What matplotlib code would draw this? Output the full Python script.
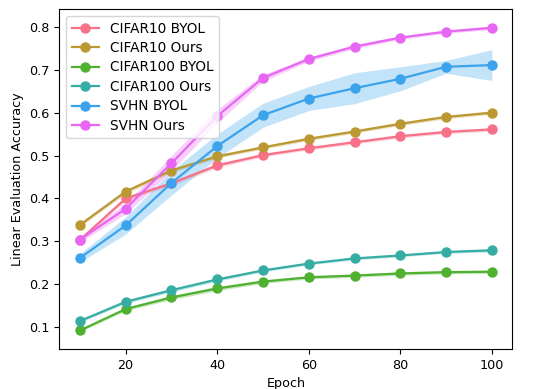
import matplotlib
matplotlib.use("Agg")
import matplotlib.pyplot as plt
import numpy as np
import seaborn as sns

epochs = [10, 20, 30, 40, 50, 60, 70, 80, 90, 100]

names = ["CIFAR10 BYOL", "CIFAR10 Ours", "CIFAR100 BYOL", "CIFAR100 Ours", "SVHN BYOL", "SVHN Ours"]

cifar10_byol = [0.303, 0.400, 0.435, 0.477, 0.501, 0.517, 0.531, 0.545, 0.555, 0.561]
cifar10_ours = [0.338, 0.416, 0.465, 0.498, 0.519, 0.539, 0.556, 0.574, 0.590, 0.600]
cifar100_byol = [0.092, 0.142, 0.169, 0.190, 0.206, 0.216, 0.220, 0.225, 0.228, 0.229]
cifar100_ours = [0.114, 0.159, 0.186, 0.211, 0.232, 0.248, 0.260, 0.267, 0.275, 0.279]
svhn_byol = [0.261, 0.337, 0.436, 0.522, 0.594, 0.633, 0.657, 0.679, 0.707, 0.711]
svhn_ours = [0.304, 0.376, 0.482, 0.592, 0.681, 0.725, 0.754, 0.775, 0.789, 0.798]

# spread of the shaded bands (half width)
cifar10_byol_sd = [0.004, 0.005, 0.005, 0.005, 0.004, 0.004, 0.004, 0.004, 0.004, 0.004]
cifar10_ours_sd = [0.004, 0.005, 0.005, 0.004, 0.004, 0.004, 0.004, 0.004, 0.004, 0.004]
cifar100_byol_sd = [0.003, 0.004, 0.005, 0.005, 0.004, 0.004, 0.004, 0.004, 0.004, 0.004]
cifar100_ours_sd = [0.003, 0.004, 0.004, 0.004, 0.003, 0.003, 0.003, 0.003, 0.003, 0.004]
svhn_byol_sd = [0.010, 0.020, 0.028, 0.028, 0.028, 0.028, 0.036, 0.028, 0.015, 0.036]
svhn_ours_sd = [0.006, 0.012, 0.018, 0.016, 0.008, 0.005, 0.005, 0.004, 0.004, 0.004]

series = [cifar10_byol, cifar10_ours, cifar100_byol, cifar100_ours, svhn_byol, svhn_ours]
spreads = [cifar10_byol_sd, cifar10_ours_sd, cifar100_byol_sd, cifar100_ours_sd, svhn_byol_sd, svhn_ours_sd]

colors = sns.color_palette("husl", 6)

plt.rcParams["font.size"] = 9.2

fig = plt.figure(figsize=(5.44, 3.89), dpi=100)
ax = fig.add_axes([0.109, 0.103, 0.833, 0.873])

x = np.array(epochs)
for name, vals, sd, c in zip(names, series, spreads, colors):
    vals = np.array(vals)
    sd = np.array(sd)
    ax.fill_between(x, vals - sd, vals + sd, color=c, alpha=0.3, linewidth=0)
    ax.plot(x, vals, color=c, marker="o", markersize=6.5, linewidth=1.6, label=name)

ax.set_ylim(0.049, 0.841)
ax.set_xticks([20, 40, 60, 80, 100])
ax.set_xlabel("Epoch")
ax.set_ylabel("Linear Evaluation Accuracy")
ax.legend(loc="upper left", fontsize=9.8, labelspacing=0.4)

fig.savefig("out.png", dpi=100)
